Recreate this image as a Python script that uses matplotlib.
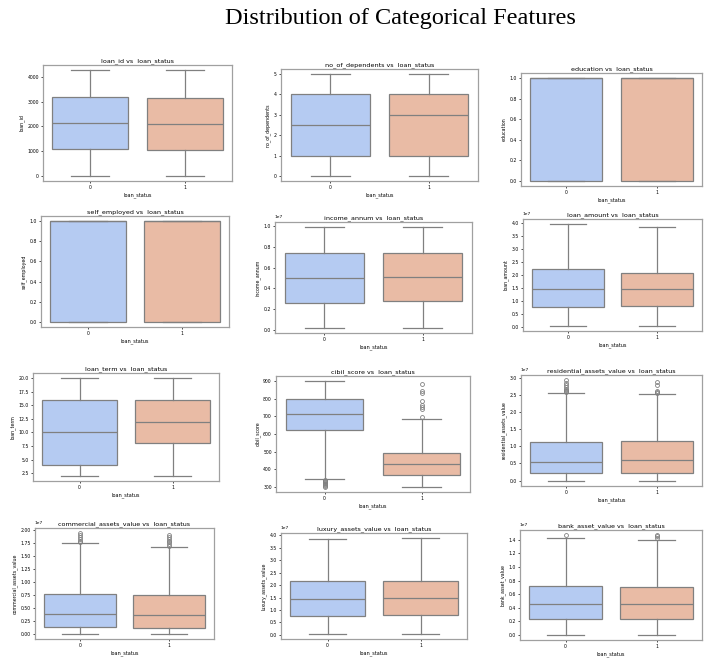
"""Boxplot grid of loan features split by loan_status."""

import matplotlib.pyplot as plt

plt.switch_backend("Agg")

# five-number summaries per class: [whisker low, q1, median, q3, whisker high]
loan_id_0 = [1, 1070, 2150, 3200, 4269]
loan_id_1 = [1, 1050, 2100, 3150, 4269]

no_of_dependents_0 = [0, 1, 2.5, 4, 5]
no_of_dependents_1 = [0, 1, 3, 4, 5]

education_0 = [0, 0, 1, 1, 1]
education_1 = [0, 0, 1, 1, 1]

self_employed_0 = [0, 0, 1, 1, 1]
self_employed_1 = [0, 0, 1, 1, 1]

income_annum_0 = [2.0e5, 2.6e6, 5.0e6, 7.45e6, 9.9e6]
income_annum_1 = [2.0e5, 2.8e6, 5.1e6, 7.45e6, 9.9e6]

loan_amount_0 = [3.0e5, 7.5e6, 1.45e7, 2.22e7, 3.95e7]
loan_amount_1 = [3.0e5, 7.9e6, 1.44e7, 2.08e7, 3.82e7]

loan_term_0 = [2, 4, 10, 16, 20]
loan_term_1 = [2, 8, 12, 16, 20]

cibil_score_0 = [343, 620, 712, 800, 900]
cibil_score_1 = [300, 365, 430, 493, 685]

residential_0 = [-1.0e5, 2.2e6, 5.5e6, 1.12e7, 2.55e7]
residential_1 = [0, 2.2e6, 6.1e6, 1.15e7, 2.52e7]

commercial_0 = [0, 1.3e6, 3.8e6, 7.7e6, 1.74e7]
commercial_1 = [0, 1.2e6, 3.7e6, 7.4e6, 1.68e7]

luxury_0 = [3.0e5, 7.5e6, 1.45e7, 2.15e7, 3.85e7]
luxury_1 = [3.0e5, 8.2e6, 1.5e7, 2.18e7, 3.9e7]

bank_0 = [0, 2.3e6, 4.5e6, 7.2e6, 1.43e7]
bank_1 = [0, 2.3e6, 4.6e6, 7.0e6, 1.39e7]

# outliers beyond the whiskers
cibil_fliers_0 = [300, 305, 310, 315, 320, 325, 330, 335, 340]
cibil_fliers_1 = [695, 745, 755, 765, 785, 835, 845, 885]
residential_fliers_0 = [2.57e7, 2.6e7, 2.63e7, 2.67e7, 2.72e7, 2.78e7, 2.85e7, 2.93e7]
residential_fliers_1 = [2.55e7, 2.58e7, 2.6e7, 2.8e7, 2.86e7]
commercial_fliers_0 = [1.76e7, 1.79e7, 1.82e7, 1.86e7, 1.9e7, 1.94e7]
commercial_fliers_1 = [1.7e7, 1.73e7, 1.76e7, 1.79e7, 1.82e7, 1.86e7, 1.9e7]
bank_fliers_0 = [1.47e7]
bank_fliers_1 = [1.42e7, 1.45e7, 1.47e7]

FEATURES = [
    ("loan_id", loan_id_0, loan_id_1, [], []),
    ("no_of_dependents", no_of_dependents_0, no_of_dependents_1, [], []),
    ("education", education_0, education_1, [], []),
    ("self_employed", self_employed_0, self_employed_1, [], []),
    ("income_annum", income_annum_0, income_annum_1, [], []),
    ("loan_amount", loan_amount_0, loan_amount_1, [], []),
    ("loan_term", loan_term_0, loan_term_1, [], []),
    ("cibil_score", cibil_score_0, cibil_score_1, cibil_fliers_0, cibil_fliers_1),
    ("residential_assets_value", residential_0, residential_1,
     residential_fliers_0, residential_fliers_1),
    ("commercial_assets_value", commercial_0, commercial_1,
     commercial_fliers_0, commercial_fliers_1),
    ("luxury_assets_value", luxury_0, luxury_1, [], []),
    ("bank_asset_value", bank_0, bank_1, bank_fliers_0, bank_fliers_1),
]
STATUS = ["0", "1"]

# axes boxes in pixels: left, top, right, bottom
PANEL_BOXES = [
    (43, 65, 232, 181), (281, 69, 478, 181), (521, 73, 702, 186),
    (41, 216, 229, 327), (275, 222, 472, 333), (523, 219, 702, 331),
    (33, 373, 219, 481), (276, 376, 470, 492), (521, 375, 702, 486),
    (35, 528, 214, 639), (281, 533, 467, 639), (520, 530, 702, 640),
]

W, H = 705, 658
BOX_COLORS = ["#b5cbf2", "#e9bba5"]
LINE_COLOR = "#808080"


def _stats(summary, fliers):
    lo, q1, med, q3, hi = summary
    return {"whislo": lo, "q1": q1, "med": med, "q3": q3, "whishi": hi,
            "fliers": fliers}


fig = plt.figure(figsize=(W / 100, H / 100), dpi=100)
fig.suptitle("Distribution of Categorical Features", x=0.568, y=0.988,
             fontsize=17.5, family="Liberation Serif")

for (name, s0, s1, f0, f1), (l, t, r, b) in zip(FEATURES, PANEL_BOXES):
    ax = fig.add_axes([l / W, 1 - b / H, (r - l) / W, (b - t) / H])
    parts = ax.bxp(
        [_stats(s0, f0), _stats(s1, f1)],
        positions=[0, 1], widths=0.8, capwidths=0.4, patch_artist=True,
        boxprops=dict(edgecolor=LINE_COLOR, linewidth=0.9),
        whiskerprops=dict(color=LINE_COLOR, linewidth=0.9),
        capprops=dict(color=LINE_COLOR, linewidth=0.9),
        medianprops=dict(color=LINE_COLOR, linewidth=0.9),
        flierprops=dict(marker="o", markersize=2.8, markerfacecolor="none",
                        markeredgecolor=LINE_COLOR, markeredgewidth=0.6),
    )
    for patch, color in zip(parts["boxes"], BOX_COLORS):
        patch.set_facecolor(color)
    ax.set_xlim(-0.5, 1.5)
    ax.set_xticks([0, 1], STATUS)
    ax.set_title(f"{name} vs  loan_status", fontsize=4.6, pad=2)
    ax.set_xlabel("loan_status", fontsize=3.6, labelpad=1.5)
    ax.set_ylabel(name, fontsize=3.4, labelpad=2)
    ax.tick_params(labelsize=3.3, length=1.5, width=0.5, pad=1.5)
    ax.yaxis.get_offset_text().set_fontsize(3.2)
    for spine in ax.spines.values():
        spine.set_color("#a0a0a0")
        spine.set_linewidth(0.9)

fig.savefig("out.png", dpi=100)
